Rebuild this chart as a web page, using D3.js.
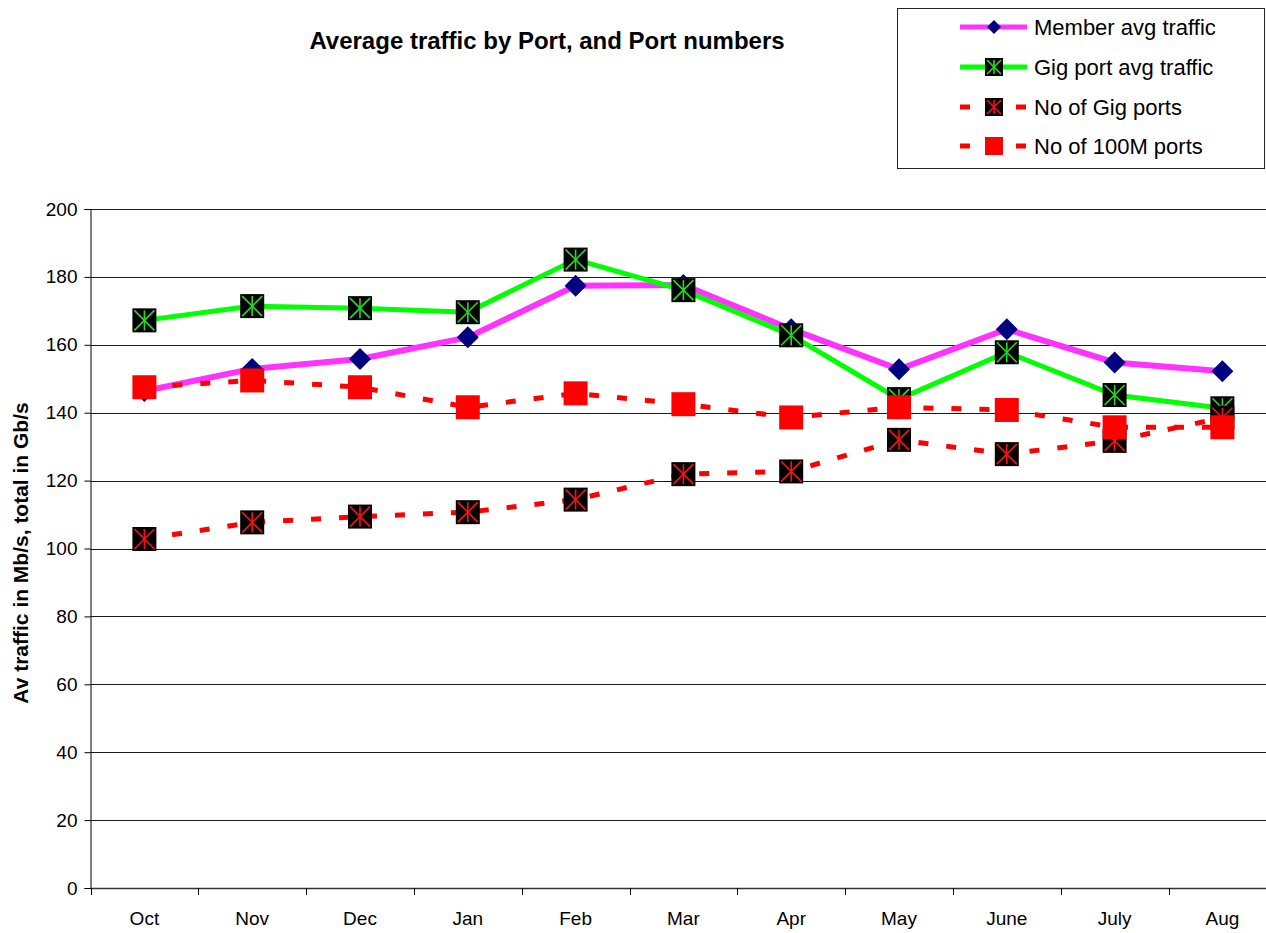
<!DOCTYPE html>
<html>
<head>
<meta charset="utf-8">
<script src="https://cdn.jsdelivr.net/npm/d3@7"></script>
<style>
  body { margin: 0; background: #fff; }
  text { font-family: Arial, 'Liberation Sans', sans-serif; }
</style>
</head>
<body>
<script>
// months on the x axis
let months = ['Oct', 'Nov', 'Dec', 'Jan', 'Feb', 'Mar', 'Apr', 'May', 'June', 'July', 'Aug']

// values
let memberAvg = [146.4, 152.9, 155.8, 162.2, 177.4, 177.6, 164.6, 152.8, 164.6, 154.8, 152.2]
let gigAvg = [167.2, 171.4, 170.8, 169.6, 185.1, 176.1, 162.8, 144, 157.8, 145.2, 141.3]
let gigPorts = [102.8, 107.7, 109.4, 110.7, 114.4, 121.9, 122.7, 132, 127.8, 131.7, 138.5]
let ports100M = [147.5, 149.5, 147.5, 141.6, 145.7, 142.5, 138.6, 141.6, 140.8, 135.7, 135.7]

let yTicks = [0, 20, 40, 60, 80, 100, 120, 140, 160, 180, 200]

let series = [
  { name: 'Member avg traffic', values: memberAvg, color: '#ff33ff', dash: null, marker: 'diamond', lw: 6 },
  { name: 'Gig port avg traffic', values: gigAvg, color: '#00ff00', dash: null, marker: 'starGreen', lw: 5 },
  { name: 'No of Gig ports', values: gigPorts, color: '#ff0000', dash: '10,18', marker: 'starRed', lw: 5 },
  { name: 'No of 100M ports', values: ports100M, color: '#ff0000', dash: '10,18', marker: 'square', lw: 5 }
]

let width = 1266
let height = 933

let svg = d3.select('body').append('svg')
  .attr('width', width)
  .attr('height', height)

let x = d3.scaleBand().domain(months).range([90.5, 1276.3])
let y = d3.scaleLinear().domain([0, 200]).range([888, 209])

function cx (i) { return x(months[i]) + x.bandwidth() / 2 }

// title
svg.append('text')
  .attr('x', 547).attr('y', 49)
  .attr('text-anchor', 'middle')
  .attr('font-size', 24).attr('font-weight', 'bold')
  .text('Average traffic by Port, and Port numbers')

// gridlines
svg.append('g')
  .selectAll('line')
  .data(yTicks.filter(function (d) { return d > 0 }))
  .enter().append('line')
  .attr('x1', 90.5).attr('x2', width)
  .attr('y1', function (d) { return Math.round(y(d)) + 0.5 })
  .attr('y2', function (d) { return Math.round(y(d)) + 0.5 })
  .attr('stroke', '#1a1a1a')
  .attr('stroke-width', 1)

// y axis
let yAxis = d3.axisLeft(y).tickValues(yTicks).tickSize(6).tickPadding(7)
let gy = svg.append('g').attr('transform', 'translate(90.5,0)').call(yAxis)
gy.attr('font-size', 19).attr('font-family', 'Arial, Liberation Sans, sans-serif')
gy.select('.domain').attr('stroke', '#000')
gy.selectAll('text').attr('fill', '#000')

// x axis
let xAxis = d3.axisBottom(x).tickSize(0).tickPadding(24)
let gx = svg.append('g').attr('transform', 'translate(0,888)').call(xAxis)
gx.attr('font-size', 19).attr('font-family', 'Arial, Liberation Sans, sans-serif')
gx.select('.domain').attr('stroke', '#333').attr('stroke-width', 1.5)
gx.selectAll('text').attr('fill', '#000')

// tick marks between categories
svg.append('g')
  .selectAll('line')
  .data(months)
  .enter().append('line')
  .attr('x1', function (d) { return Math.round(x(d)) + 0.5 })
  .attr('x2', function (d) { return Math.round(x(d)) + 0.5 })
  .attr('y1', 888).attr('y2', 895)
  .attr('stroke', '#000')

// y axis title
svg.append('text')
  .attr('transform', 'translate(28,553) rotate(-90)')
  .attr('text-anchor', 'middle')
  .attr('font-size', 21).attr('font-weight', 'bold')
  .text('Av traffic in Mb/s, total in Gb/s')

// draws one marker centred at 0,0
function drawMarker (g, kind, s) {
  let h = s / 2
  if (kind === 'diamond') {
    g.append('path')
      .attr('d', 'M0,' + (-h) + 'L' + h + ',0L0,' + h + 'L' + (-h) + ',0Z')
      .attr('fill', '#000080')
  } else if (kind === 'square') {
    g.append('rect')
      .attr('x', -h).attr('y', -h).attr('width', s).attr('height', s)
      .attr('fill', '#ff0000')
  } else {
    let c = kind === 'starGreen' ? '#22dd22' : '#ff1010'
    g.append('rect')
      .attr('x', -h).attr('y', -h).attr('width', s).attr('height', s)
      .attr('fill', '#000')
    let k = h - 2
    let lines = [[0, -k, 0, k], [-k, -k, k, k], [-k, k, k, -k]]
    lines.forEach(function (l) {
      g.append('line')
        .attr('x1', l[0]).attr('y1', l[1]).attr('x2', l[2]).attr('y2', l[3])
        .attr('stroke', c).attr('stroke-width', 1.6)
    })
  }
}

let line = d3.line()
  .x(function (d, i) { return cx(i) })
  .y(function (d) { return y(d) })

// series, later ones drawn on top
series.forEach(function (s) {
  let g = svg.append('g')
  g.append('path')
    .datum(s.values)
    .attr('d', line)
    .attr('fill', 'none')
    .attr('stroke', s.color)
    .attr('stroke-width', s.lw)
    .attr('stroke-dasharray', s.dash)
  s.values.forEach(function (v, i) {
    let m = g.append('g').attr('transform', 'translate(' + cx(i) + ',' + y(v) + ')')
    drawMarker(m, s.marker, s.marker === 'diamond' ? 22 : 24)
  })
})

// legend
let legend = svg.append('g')
legend.append('rect')
  .attr('x', 897.5).attr('y', 8.5)
  .attr('width', 367).attr('height', 160)
  .attr('fill', '#fff')
  .attr('stroke', '#222')

let rowY = [27, 67, 107, 146]
series.forEach(function (s, i) {
  let row = legend.append('g').attr('transform', 'translate(0,' + rowY[i] + ')')
  row.append('line')
    .attr('x1', 960).attr('x2', 1027)
    .attr('y1', 0).attr('y2', 0)
    .attr('stroke', s.color)
    .attr('stroke-width', 5)
    .attr('stroke-dasharray', s.dash)
  let m = row.append('g').attr('transform', 'translate(994,0)')
  drawMarker(m, s.marker, s.marker === 'diamond' ? 14 : 18)
  row.append('text')
    .attr('x', 1034).attr('y', 0)
    .attr('dy', '0.36em')
    .attr('font-size', 22)
    .text(s.name)
})
</script>
</body>
</html>
